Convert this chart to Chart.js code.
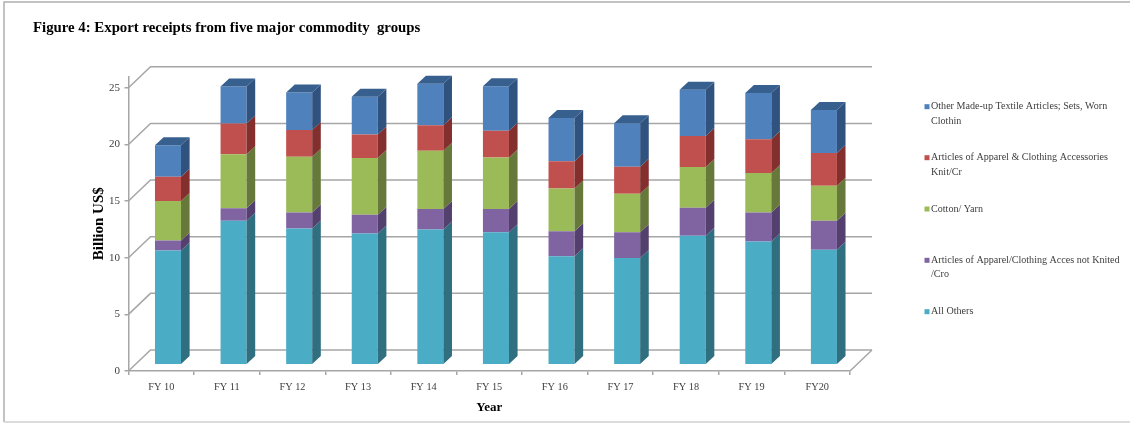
<!DOCTYPE html>
<html>
<head>
<meta charset="utf-8">
<title>Export receipts</title>
<script src="https://cdn.jsdelivr.net/npm/chart.js@4"></script>
<style>
  html, body { margin: 0; padding: 0; background: #fff; }
  canvas { display: block; }
</style>
</head>
<body>
<canvas id="grafico" width="1130" height="423"></canvas>
<script>
const years = ['FY 10', 'FY 11', 'FY 12', 'FY 13', 'FY 14', 'FY 15', 'FY 16', 'FY 17', 'FY 18', 'FY 19', 'FY20'];
const yTicks = [0, 5, 10, 15, 20, 25];
const allOthers = [10.10, 12.72, 12.04, 11.60, 11.95, 11.71, 9.59, 9.42, 11.40, 10.89, 10.16];
const apparelNotKnit = [0.88, 1.09, 1.41, 1.65, 1.80, 2.04, 2.19, 2.27, 2.47, 2.56, 2.56];
const cottonYarn = [3.47, 4.77, 4.92, 5.00, 5.15, 4.56, 3.79, 3.42, 3.59, 3.48, 3.09];
const apparelKnit = [2.16, 2.71, 2.35, 2.09, 2.24, 2.36, 2.39, 2.38, 2.73, 2.97, 2.88];
const madeUpTextile = [2.76, 3.27, 3.31, 3.33, 3.68, 3.91, 3.82, 3.83, 4.10, 4.09, 3.80];

const seriesColors = ['#4bacc6', '#8064a2', '#9bbb59', '#c0504d', '#4f81bd'];
const sideColors = ['#2f6f80', '#54406e', '#67793a', '#822f2d', '#30527f'];
const topColor = '#37608f';

const legendLines = [
  ['All Others'],
  ['Articles of Apparel/Clothing Acces not Knited', '/Cro'],
  ['Cotton/ Yarn'],
  ['Articles of Apparel & Clothing Accessories', 'Knit/Cr'],
  ['Other Made-up Textile Articles; Sets, Worn', 'Clothin']
];
const legendY = [311.7, 260.3, 209, 157.7, 106.7];

const FONT = '"Liberation Serif", serif';
const GRID = '#a6a6a6';
const TEXT = '#404040';

// profundidad de la pared del fondo y de las barras
const wallX = 22, wallY = 21;
const barShiftX = 6.7, barShiftY = -6.2;
const barDepthX = 8.6, barDepthY = 8;

const pseudo3d = {
  id: 'pseudo3d',
  beforeDraw(chart) {
    const ctx = chart.ctx;
    ctx.save();
    ctx.fillStyle = '#fff';
    ctx.fillRect(0, 0, chart.width, chart.height);
    ctx.strokeStyle = '#b0b0b0';
    ctx.lineWidth = 1.5;
    ctx.beginPath();
    ctx.moveTo(chart.width, 2);
    ctx.lineTo(4, 2);
    ctx.lineTo(4, 422);
    ctx.stroke();
    ctx.strokeStyle = '#d0d0d0';
    ctx.beginPath();
    ctx.moveTo(4, 422);
    ctx.lineTo(chart.width, 422);
    ctx.stroke();
    ctx.restore();
  },
  beforeDatasetsDraw(chart) {
    const ctx = chart.ctx;
    const { left, right } = chart.chartArea;
    const y = chart.scales.y;
    ctx.save();
    ctx.strokeStyle = GRID;
    ctx.lineWidth = 1.5;
    y.ticks.forEach(t => {
      const py = y.getPixelForValue(t.value);
      ctx.beginPath();
      ctx.moveTo(left, py);
      ctx.lineTo(left + wallX, py - wallY);
      ctx.lineTo(right + wallX, py - wallY);
      ctx.stroke();
    });
    const y0 = y.getPixelForValue(0);
    ctx.beginPath();
    ctx.moveTo(right + wallX, y0 - wallY);
    ctx.lineTo(right, y0);
    ctx.stroke();
    ctx.restore();
    ctx.save();
    ctx.translate(barShiftX, barShiftY);
  },
  afterDatasetsDraw(chart) {
    const ctx = chart.ctx;
    const last = chart.data.datasets.length - 1;
    chart.data.datasets.forEach((ds, i) => {
      chart.getDatasetMeta(i).data.forEach(bar => {
        const p = bar.getProps(['x', 'y', 'base', 'width'], true);
        const xl = p.x - p.width / 2, xr = p.x + p.width / 2;
        ctx.fillStyle = sideColors[i];
        ctx.beginPath();
        ctx.moveTo(xr, p.y);
        ctx.lineTo(xr + barDepthX, p.y - barDepthY);
        ctx.lineTo(xr + barDepthX, p.base - barDepthY);
        ctx.lineTo(xr, p.base);
        ctx.closePath();
        ctx.fill();
        if (i === last) {
          ctx.fillStyle = topColor;
          ctx.beginPath();
          ctx.moveTo(xl, p.y);
          ctx.lineTo(xl + barDepthX, p.y - barDepthY);
          ctx.lineTo(xr + barDepthX, p.y - barDepthY);
          ctx.lineTo(xr, p.y);
          ctx.closePath();
          ctx.fill();
        }
      });
    });
    ctx.restore();
  },
  afterDraw(chart) {
    const ctx = chart.ctx;
    ctx.save();
    ctx.font = '10.1px ' + FONT;
    ctx.textBaseline = 'middle';
    legendLines.forEach((lines, i) => {
      ctx.fillStyle = seriesColors[i];
      ctx.fillRect(924.5, legendY[i] - 2.5, 5, 5);
      ctx.fillStyle = TEXT;
      lines.forEach((line, j) => ctx.fillText(line, 931, legendY[i] + j * 14.5));
    });
    ctx.restore();
  }
};

function serie(label, data, i) {
  return { label, data, backgroundColor: seriesColors[i], borderWidth: 0, barPercentage: 0.397, categoryPercentage: 1 };
}

new Chart(document.getElementById('grafico').getContext('2d'), {
  type: 'bar',
  data: {
    labels: years,
    datasets: [
      serie('All Others', allOthers, 0),
      serie('Articles of Apparel/Clothing Acces not Knited /Cro', apparelNotKnit, 1),
      serie('Cotton/ Yarn', cottonYarn, 2),
      serie('Articles of Apparel & Clothing Accessories Knit/Cr', apparelKnit, 3),
      serie('Other Made-up Textile Articles; Sets, Worn Clothin', madeUpTextile, 4)
    ]
  },
  plugins: [pseudo3d],
  options: {
    responsive: false,
    animation: false,
    layout: { padding: { left: 33, right: 280, top: 0, bottom: 0 } },
    plugins: {
      legend: { display: false },
      tooltip: { enabled: false },
      title: {
        display: true,
        text: 'Figure 4: Export receipts from five major commodity  groups',
        align: 'start',
        color: '#000',
        font: { family: FONT, size: 14.8, weight: 'bold' },
        padding: { top: 19.1, bottom: 39.6 }
      }
    },
    scales: {
      x: {
        stacked: true,
        afterFit(scale) { scale.height = 52; },
        grid: { drawOnChartArea: false, color: GRID, lineWidth: 1.5, tickLength: 4 },
        border: { color: GRID, width: 1.5 },
        ticks: { color: TEXT, font: { family: FONT, size: 10.3 }, padding: 6, maxRotation: 0 },
        title: {
          display: true,
          text: 'Year',
          color: '#000',
          font: { family: FONT, size: 13, weight: 'bold' },
          padding: { top: 0, bottom: 8 }
        }
      },
      y: {
        stacked: true,
        min: 0,
        max: 26,
        afterFit(scale) { scale.width = 95.5; },
        afterBuildTicks(scale) {
          scale.ticks = yTicks.map(value => ({ value }));
        },
        grid: { drawOnChartArea: false, color: GRID, lineWidth: 1.5, tickLength: 4 },
        border: { color: GRID, width: 1.5 },
        ticks: { color: TEXT, font: { family: FONT, size: 11 }, padding: 4.5 },
        title: {
          display: true,
          text: 'Billion US$',
          color: '#000',
          font: { family: FONT, size: 15, weight: 'bold' },
          padding: { top: 57, bottom: 0 }
        }
      }
    }
  }
});
</script>
</body>
</html>
